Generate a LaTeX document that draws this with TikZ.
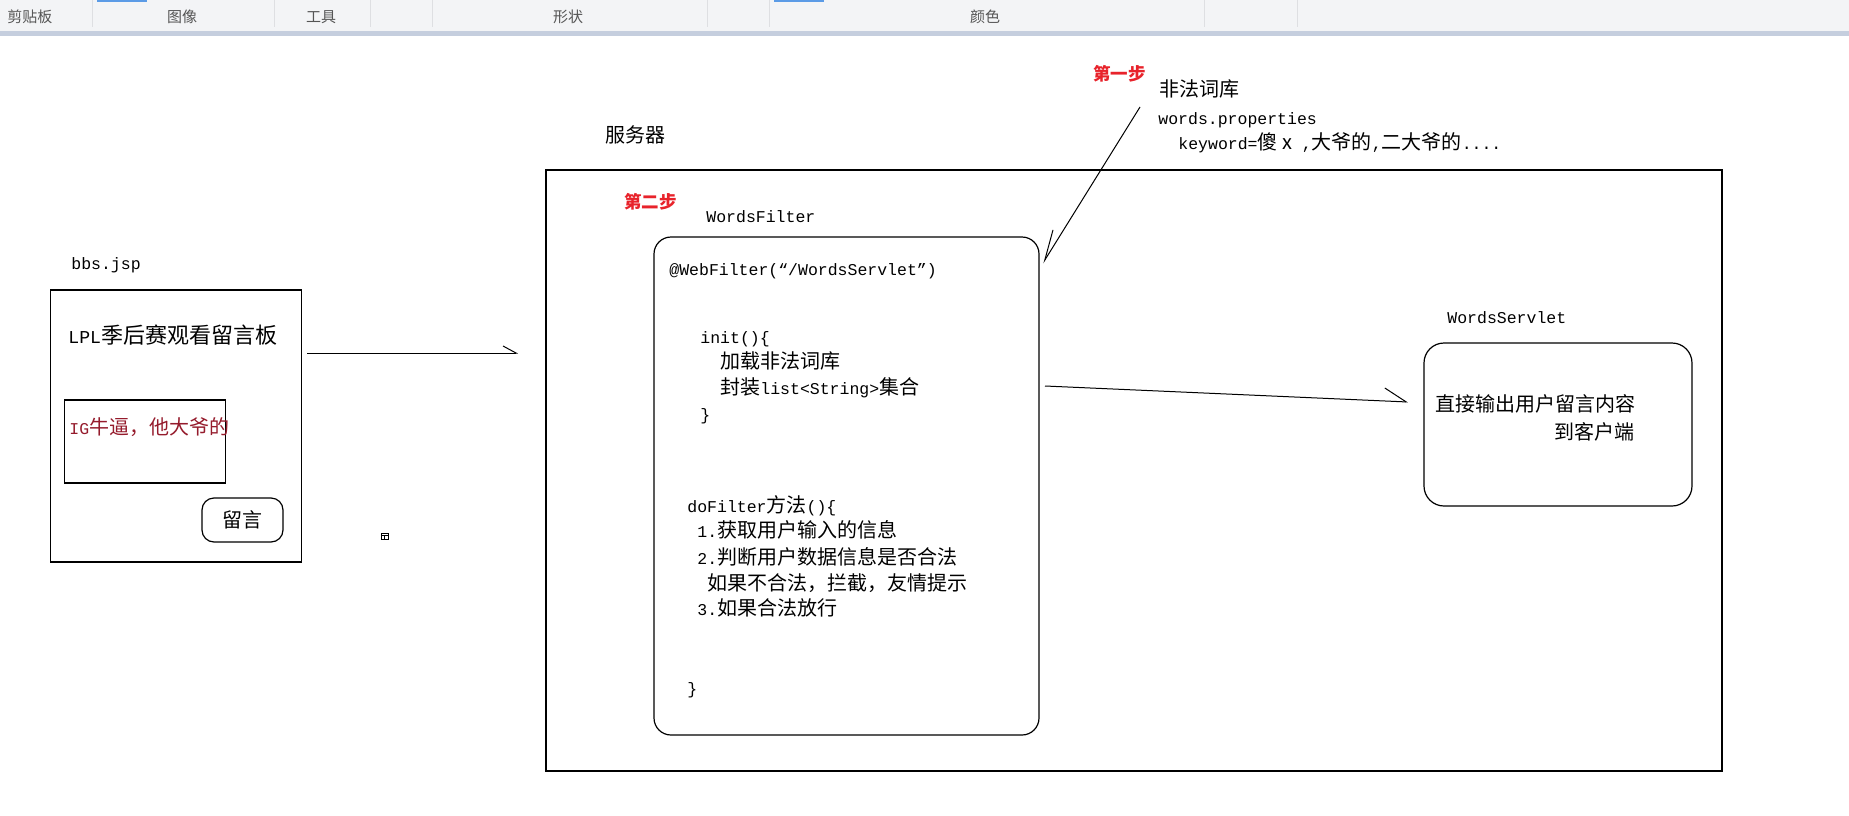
\documentclass[tikz,border=0pt]{standalone}
\usepackage{fontspec}
\setmainfont{Liberation Mono}[Scale=0.825]
\newfontfamily\cjkfont{Noto Sans CJK SC}
\newcommand\zh[1]{{\cjkfont #1}}
\usetikzlibrary{arrows.meta}

\definecolor{barbg}{HTML}{F3F4F6}
\definecolor{barband}{HTML}{C5CEDE}
\definecolor{barsep}{HTML}{DEDFE2}
\definecolor{baraccent}{HTML}{5B9BE6}
\definecolor{bartext}{HTML}{555555}
\definecolor{steptext}{HTML}{E8232B}
\definecolor{msgtext}{HTML}{951B2C}

\tikzset{
  box/.style={draw, line width=0.6pt, inner sep=0pt},
  rbox/.style={box, rounded corners=#1},
  txt/.style={anchor=base west, inner sep=0pt, yshift=-3.5pt},
  codeline/.style={txt},
  steplabel/.style={anchor=base west, inner sep=0pt, yshift=-3.2pt, text=steptext,
    font=\cjkfont\bfseries\fontsize{8.75pt}{10pt}\selectfont},
  toollabel/.style={anchor=base, inner sep=0pt, yshift=-2.7pt, text=bartext,
    font=\fontsize{7.5pt}{9pt}\selectfont},
  flow/.style={line width=0.5pt},
}

\begin{document}
\begin{tikzpicture}[x=0.5pt, y=-0.5pt]

    \useasboundingbox (0,0) rectangle (1849,815);
    \fill[white] (0,0) rectangle (1849,815);

    % ================================================================================================
    % 工具栏
    % ================================================================================================
    \fill[barbg] (0,0) rectangle (1849,31);
    \fill[barband] (0,31) rectangle (1849,36);
    \foreach \x in {92,274,370,432,707,769,1204,1297}
    \draw[barsep, line width=0.5pt] (\x,0) -- (\x,27);
    \fill[baraccent] (97,0) rectangle (147,1.5);
    \fill[baraccent] (774,0) rectangle (824,1.5);

    \foreach \l/\x [count=\i] in {剪贴板/30, 图像/182, 工具/321, 形状/568, 颜色/985}
    \node[toollabel] (tool-\i) at (\x,17.5) {\zh{\l}};

    % ================================================================================================
    % 页面
    % ================================================================================================
    \node[txt] (page-name) at (71,262) {bbs.jsp};
    \node[box, minimum width=125.65pt, minimum height=136pt] (page) at (176,426) {};
    \node[txt, font=\fontsize{11pt}{13pt}\selectfont, yshift=-0.35pt] (page-title) at (68,336) {LPL\zh{季后赛观看留言板}};
    \node[box, minimum width=80.5pt, minimum height=41.5pt] (comment) at (145,441.5) {};
    \node[txt, text=msgtext] (comment-text) at (69,427) {IG\zh{牛逼，他大爷的}};
    \node[rbox=6pt, minimum width=40.5pt, minimum height=22pt] (send) at (242.5,520) {\zh{留言}};

    \draw[line width=0.4pt] (381,533) rectangle (388,539);
    \draw[line width=0.4pt] (381,535.5) -- (388,535.5) (384.5,535.5) -- (384.5,539);

    % ================================================================================================
    % 服务器
    % ================================================================================================
    \node[txt] (server-name) at (605,135) {\zh{服务器}};
    \node[box, minimum width=588pt, minimum height=300.5pt] (server) at (1134,470.5) {};

    \node[steplabel] (step-2) at (624,202) {第二步};
    \node[txt] (filter-name) at (706,215) {WordsFilter};
    \node[rbox=8.5pt, minimum width=192.5pt, minimum height=249pt] (filter) at (846.5,486) {};

    \foreach \x/\y/\t [count=\i] in {
        669/268/{@WebFilter(“/WordsServlet”)},
        700/336/{init()\{},
        720/361/{\zh{加载非法词库}},
        720/387/{\zh{封装}list<String>\zh{集合}},
        700/413/{\}},
        687/505/{doFilter\zh{方法}()\{},
        697/530/{1.\zh{获取用户输入的信息}},
        697/557/{2.\zh{判断用户数据信息是否合法}},
        707/583/{\zh{如果不合法，拦截，友情提示}},
        697/608/{3.\zh{如果合法放行}},
        687/687/{\}}}
    \node[codeline] (code-\i) at (\x,\y) {\t};

    % ================================================================================================
    % 非法词库
    % ================================================================================================
    \node[steplabel] (step-1) at (1093,74) {第一步};
    \node[txt] (dict-1) at (1159,89) {\zh{非法词库}};
    \node[txt] (dict-2) at (1158,117) {words.properties};
    \node[txt] (dict-3) at (1178,142) {keyword=\zh{傻 x} ,\zh{大爷的},\zh{二大爷的}....};

    % ================================================================================================
    % WordsServlet
    % ================================================================================================
    \node[txt] (servlet-name) at (1447,316) {WordsServlet};
    \node[rbox=10pt, minimum width=134pt, minimum height=81.5pt] (servlet) at (1558,424.5) {};
    \node[txt] (servlet-1) at (1435,404) {\zh{直接输出用户留言内容}};
    \node[txt, anchor=base east] (servlet-2) at (1635,432) {\zh{到客户端}};

    % ================================================================================================
    % 连接
    % ================================================================================================
    \coordinate (post-start) at (307,353);
    \coordinate (post-end) at (518,353);
    \draw[flow, -{Straight Barb[left, length=6.5pt, width=7pt]}] (post-start) -- (post-end);

    \coordinate (load-start) at (1140,107);
    \coordinate (load-end) at (1043,263);
    \draw[flow, -{Straight Barb[right, length=15pt, width=9pt]}] (load-start) -- (load-end);

    \coordinate (pass-start) at (1045,386);
    \coordinate (pass-end) at (1408,402);
    \draw[flow, -{Straight Barb[left, length=11pt, width=13pt]}] (pass-start) -- (pass-end);

\end{tikzpicture}
\end{document}
